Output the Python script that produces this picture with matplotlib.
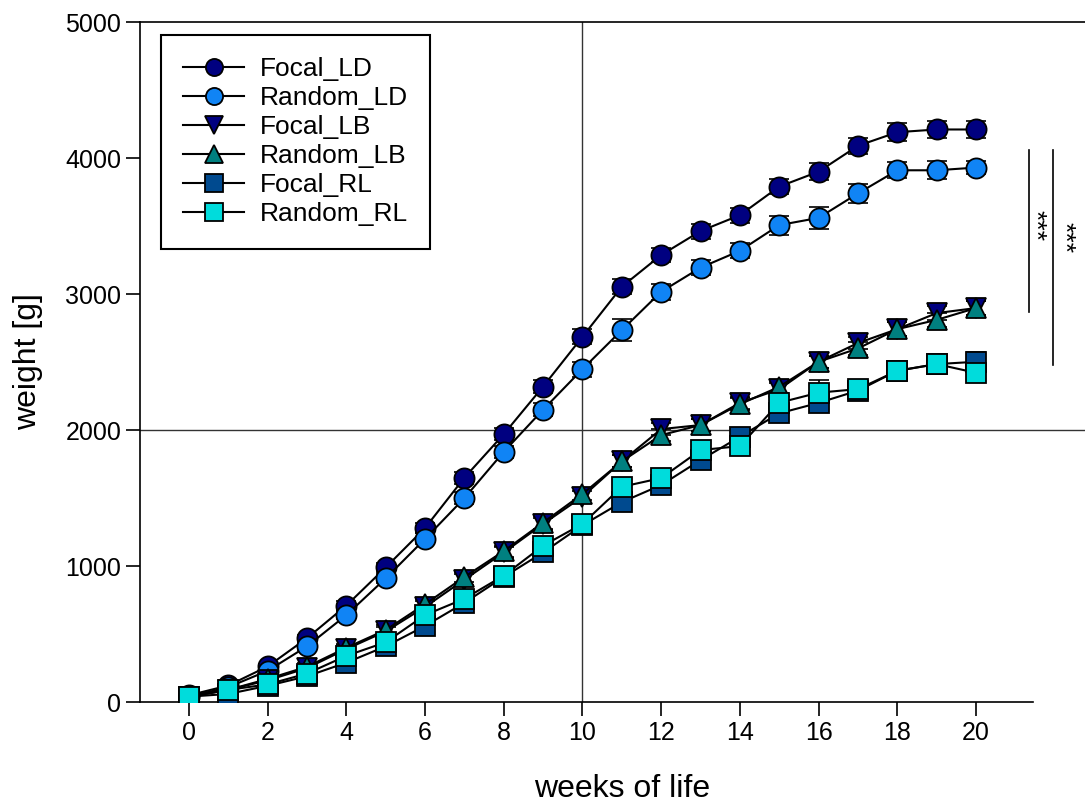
import matplotlib.pyplot as plt
import numpy as np

plt.rcParams['font.family'] = ['Liberation Sans', 'DejaVu Sans']

weeks = np.arange(0, 21)

focal_ld = [50, 122, 262, 470, 710, 990, 1280, 1650, 1970, 2320, 2686,
            3054, 3287, 3463, 3580, 3790, 3900, 4090, 4190, 4210, 4210]
random_ld = [40, 110, 230, 410, 640, 910, 1200, 1500, 1840, 2150, 2448,
             2735, 3017, 3194, 3318, 3507, 3560, 3740, 3910, 3910, 3930]
focal_lb = [40, 90, 160, 250, 390, 520, 700, 900, 1100, 1310, 1510,
            1770, 2007, 2037, 2200, 2300, 2502, 2640, 2742, 2860, 2897]
random_lb = [40, 90, 170, 260, 400, 530, 720, 920, 1110, 1320, 1530,
             1770, 1963, 2037, 2190, 2318, 2502, 2600, 2742, 2810, 2897]
focal_rl = [40, 60, 120, 190, 290, 410, 560, 730, 920, 1100, 1300,
            1470, 1596, 1779, 1951, 2123, 2200, 2290, 2436, 2485, 2502]
random_rl = [40, 90, 130, 210, 340, 440, 640, 760, 930, 1150, 1310,
             1583, 1647, 1853, 1882, 2201, 2275, 2301, 2436, 2485, 2421]

err_ld_f = [10, 15, 20, 25, 30, 35, 40, 45, 45, 50, 55, 55, 50, 55, 55, 55, 60, 60, 65, 65, 60]
err_ld_r = [10, 15, 20, 25, 30, 35, 40, 45, 45, 50, 55, 80, 60, 55, 55, 70, 80, 70, 60, 65, 50]
err_lb_f = [10, 15, 20, 25, 30, 35, 40, 40, 40, 45, 45, 45, 45, 45, 45, 45, 45, 45, 50, 50, 50]
err_lb_r = [10, 15, 20, 25, 30, 35, 40, 40, 40, 45, 45, 45, 45, 45, 45, 45, 45, 45, 50, 50, 50]
err_rl_f = [10, 15, 20, 25, 30, 35, 40, 40, 45, 45, 45, 50, 50, 55, 60, 55, 60, 60, 65, 70, 70]
err_rl_r = [10, 15, 20, 25, 30, 35, 40, 40, 45, 45, 45, 60, 50, 60, 60, 70, 90, 60, 60, 70, 65]

series = [
    ("Focal_LD", focal_ld, err_ld_f, "o", "#000080"),
    ("Random_LD", random_ld, err_ld_r, "o", "#1084F5"),
    ("Focal_LB", focal_lb, err_lb_f, "v", "#000080"),
    ("Random_LB", random_lb, err_lb_r, "^", "#008080"),
    ("Focal_RL", focal_rl, err_rl_f, "s", "#004A8F"),
    ("Random_RL", random_rl, err_rl_r, "s", "#00DCDC"),
]

fig = plt.figure(figsize=(10.85, 8.07), dpi=100)
ax = fig.add_axes([0.129, 0.130, 0.871, 0.8427])

ax.axvline(10, color="#333333", lw=1, zorder=0)
ax.axhline(2000, color="#333333", lw=1, zorder=0)

for name, y, e, m, c in series:
    ax.errorbar(weeks, y, yerr=e, fmt="none", ecolor="black", elinewidth=1.2,
                capsize=7, capthick=1.2, zorder=2)
    ax.plot(weeks, y, color="black", lw=1.5, marker=m, markersize=14.5,
            markerfacecolor=c, markeredgecolor="black", markeredgewidth=1.3,
            label=name, zorder=3)

# significance bars
ax.plot([21.35, 21.35], [4059, 2868], color="black", lw=1.2, clip_on=False)
ax.plot([21.96, 21.96], [4059, 2478], color="black", lw=1.2, clip_on=False)
ax.text(21.5, 3507, "***", rotation=270, ha="center", va="center", fontsize=19)
ax.text(22.22, 3419, "***", rotation=270, ha="center", va="center", fontsize=19)

ax.set_xlim(-1.245, 22.77)
ax.set_ylim(0, 5000)
ax.set_xticks(np.arange(0, 21, 2))
ax.set_yticks(np.arange(0, 5001, 1000))
ax.tick_params(axis="both", direction="out", length=10, width=1.2, labelsize=18)
ax.spines["right"].set_visible(False)
for s in ["left", "bottom", "top"]:
    ax.spines[s].set_linewidth(1.2)
ax.spines["bottom"].set_bounds(-1.245, 21.45)

ax.set_xlabel("weeks of life", fontsize=23, labelpad=21)
ax.xaxis.label.set_x(0.51)
ax.set_ylabel("weight [g]", fontsize=23, labelpad=16)

leg = ax.legend(loc="upper left", bbox_to_anchor=(0.0222, 0.981), fontsize=19,
                fancybox=False, edgecolor="black", framealpha=1,
                handlelength=2.3, markerscale=0.85, labelspacing=0.19,
                borderpad=0.85, handletextpad=0.6, borderaxespad=0)
leg.get_frame().set_linewidth(1.5)

fig.savefig("out.png", dpi=100)
